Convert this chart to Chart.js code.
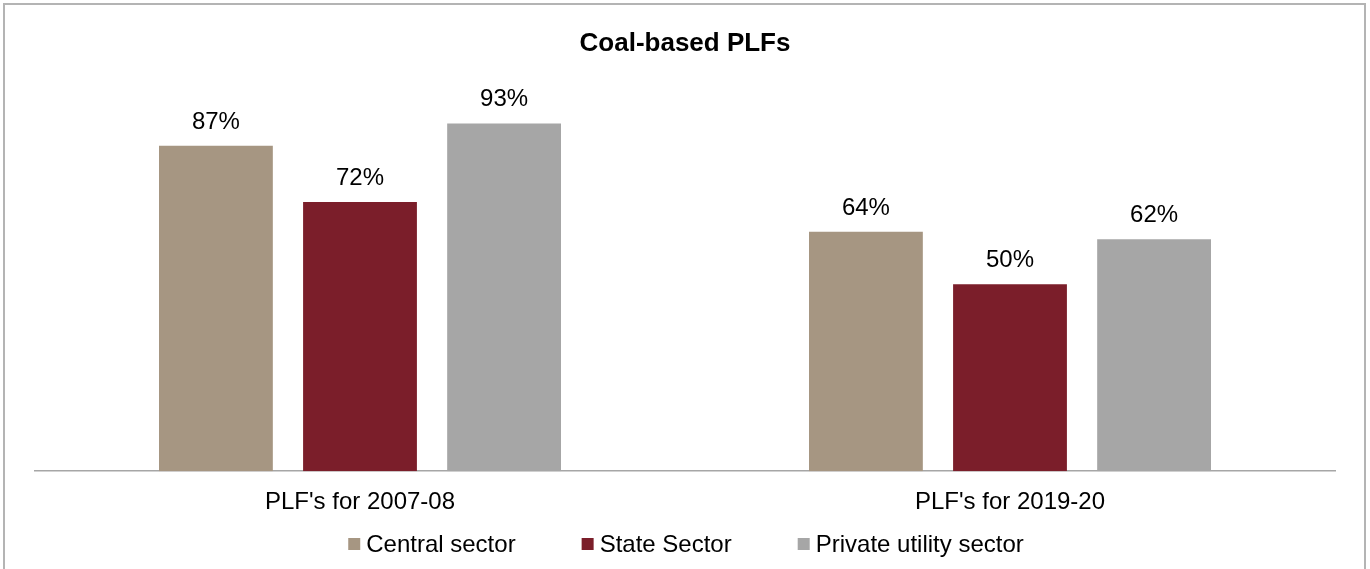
<!DOCTYPE html>
<html>
<head>
<meta charset="utf-8">
<script src="https://cdn.jsdelivr.net/npm/chart.js@4.4.1/dist/chart.umd.min.js"></script>
<style>
  html, body { margin: 0; padding: 0; background: #fff; }
  #frame {
    position: absolute; left: 3px; top: 3px; width: 1359px; height: 600px;
    border: 2px solid #b4b4b4;
  }
  #wrap { position: absolute; left: 0; top: 0; width: 1370px; height: 569px; }
</style>
</head>
<body>
<div id="frame"></div>
<div id="wrap"><canvas id="chart" width="1370" height="569"></canvas></div>
<script>
// Coal-based PLF chart

const categories = ["PLF's for 2007-08", "PLF's for 2019-20"];
const seriesNames = ["Central sector", "State Sector", "Private utility sector"];
const seriesColors = ["#a69682", "#7b1e2a", "#a6a6a6"];
const centralValues = [87, 64];
const stateValues = [72, 50];
const privateValues = [93, 62];

const FONT = "'Liberation Sans', Arial, sans-serif";
Chart.defaults.font.family = FONT;
Chart.defaults.color = "#000";

// draws the value labels above each bar
const valueLabels = {
    id: "valueLabels",
    afterDatasetsDraw: function (chart) {
        const ctx = chart.ctx;
        ctx.save();
        ctx.font = "24px " + FONT;
        ctx.fillStyle = "#000";
        ctx.textAlign = "center";
        ctx.textBaseline = "alphabetic";
        chart.data.datasets.forEach(function (ds, i) {
            chart.getDatasetMeta(i).data.forEach(function (bar, j) {
                ctx.fillText(ds.data[j] + "%", bar.x, bar.y - 17);
            });
        });
        ctx.restore();
    }
};

// legend drawn by hand so the box/text spacing matches
const bottomLegend = {
    id: "bottomLegend",
    afterDraw: function (chart) {
        const ctx = chart.ctx;
        const box = 12, gapText = 6, gapItem = 66, cy = 544;
        ctx.save();
        ctx.font = "24px " + FONT;
        const widths = chart.data.datasets.map(function (ds) {
            return box + gapText + ctx.measureText(ds.label).width;
        });
        const total = widths.reduce(function (a, b) { return a + b; }, 0) + gapItem * (widths.length - 1);
        let x = (chart.width - total) / 2 + 1;
        ctx.textBaseline = "middle";
        ctx.textAlign = "left";
        chart.data.datasets.forEach(function (ds, i) {
            ctx.fillStyle = ds.backgroundColor;
            ctx.fillRect(x, cy - box / 2, box, box);
            ctx.fillStyle = "#000";
            ctx.fillText(ds.label, x + box + gapText, cy + 1);
            x += widths[i] + gapItem;
        });
        ctx.restore();
    }
};

const valueSets = [centralValues, stateValues, privateValues];

const config = {
    type: "bar",
    data: {
        labels: categories,
        datasets: seriesNames.map(function (name, i) {
            return {
                label: name,
                data: valueSets[i],
                backgroundColor: seriesColors[i],
                categoryPercentage: 0.665,
                barPercentage: 0.79
            };
        })
    },
    options: {
        responsive: false,
        animation: false,
        layout: { padding: { left: 35, right: 35, top: 0, bottom: 35 } },
        plugins: {
            legend: { display: false },
            tooltip: { enabled: false },
            title: {
                display: true,
                text: "Coal-based PLFs",
                font: { size: 26, weight: "bold" },
                color: "#000",
                padding: { top: 28, bottom: 38 }
            }
        },
        scales: {
            x: {
                grid: { display: false, drawTicks: false },
                border: { display: true, color: "#a6a6a6", width: 1.5 },
                ticks: { font: { size: 24 }, color: "#000", padding: 17 }
            },
            y: {
                display: false,
                min: 0,
                max: 100
            }
        }
    },
    plugins: [valueLabels, bottomLegend]
};

new Chart(document.getElementById("chart").getContext("2d"), config);
</script>
</body>
</html>
